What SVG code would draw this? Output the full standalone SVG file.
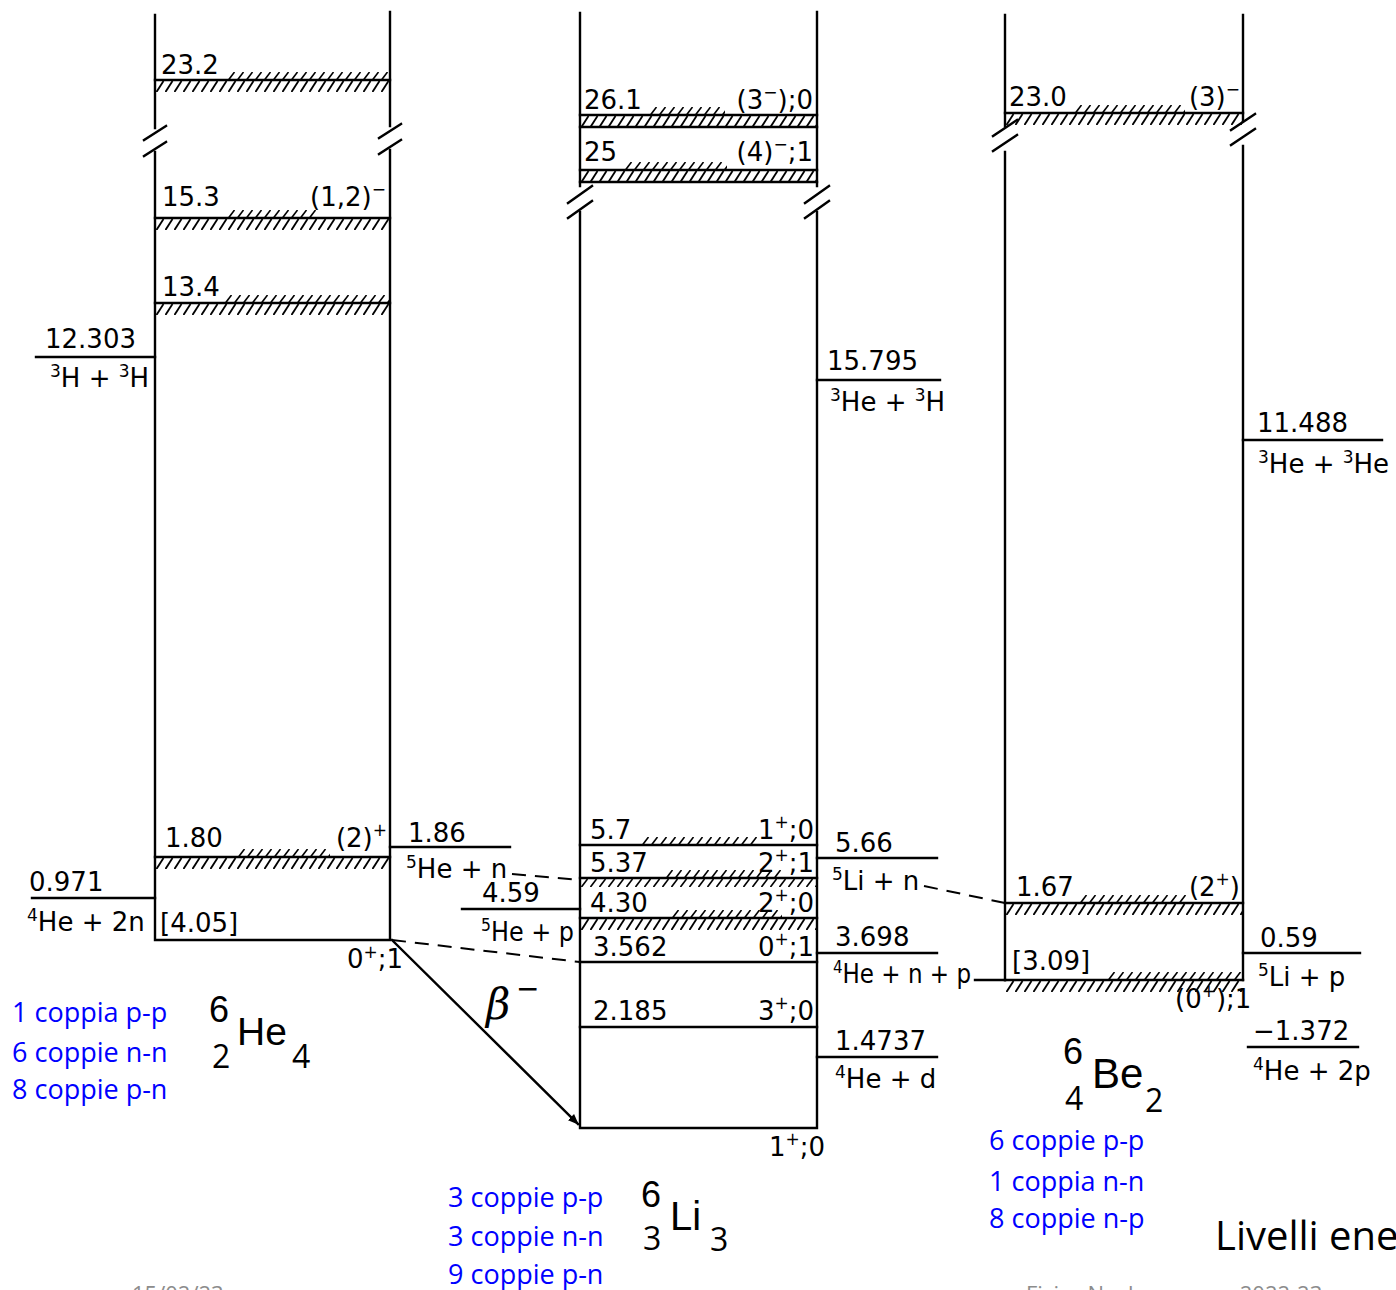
<svg xmlns="http://www.w3.org/2000/svg" width="1396" height="1290" viewBox="0 0 1396 1290">
<style>
.ln{stroke:#000;stroke-width:2.4;fill:none;stroke-linecap:square}
.dash{stroke:#000;stroke-width:2;fill:none;stroke-dasharray:14 9}
.t{font-family:"DejaVu Sans",sans-serif;font-size:26px;fill:#000}
.te{font-family:"DejaVu Sans",sans-serif;font-size:26px;fill:#000;text-anchor:end}
.s{font-size:17px}
.blue{font-family:"Open Sans",sans-serif;font-size:27px;fill:#0000ff}
.nuc{font-family:"Liberation Sans",sans-serif;fill:#000}
.cal{font-family:"Open Sans",sans-serif;fill:#000}
.foot{font-family:"Open Sans",sans-serif;font-size:22px;fill:#8c8c8c}
</style>
<defs>
<pattern id="hb" width="9" height="11" patternUnits="userSpaceOnUse"><path d="M0.5,11 L7.5,0" stroke="#000" stroke-width="1.8"/></pattern>
<pattern id="ha" width="9" height="8" patternUnits="userSpaceOnUse"><path d="M0.5,8 L6.5,0" stroke="#000" stroke-width="1.6"/></pattern>
<marker id="arr" viewBox="0 0 10 10" refX="9" refY="5" markerWidth="11" markerHeight="11" orient="auto" markerUnits="userSpaceOnUse"><path d="M0,1 L10,5 L0,9 Z" fill="#000"/></marker>
</defs>
<rect width="1396" height="1290" fill="#fff"/>

<g id="he6">
<path class="ln" d="M155,15 V128 M155,152 V940 M390,12 V126 M390,150 V940 M155,940 H390"/>
<path class="ln" d="M144,140 L166,126 M144,156 L166,142 M379,138 L401,124 M379,154 L401,140"/>
<path class="ln" d="M155,80 H390 M155,218 H390 M155,303 H390 M155,857 H390"/>
<g transform="translate(156,81)"><rect width="233" height="11" fill="url(#hb)"/></g>
<g transform="translate(228,72)"><rect width="160" height="8" fill="url(#ha)"/></g>
<g transform="translate(156,219)"><rect width="233" height="11" fill="url(#hb)"/></g>
<g transform="translate(228,210)"><rect width="90" height="8" fill="url(#ha)"/></g>
<g transform="translate(156,304)"><rect width="233" height="11" fill="url(#hb)"/></g>
<g transform="translate(225,295)"><rect width="164" height="8" fill="url(#ha)"/></g>
<g transform="translate(156,858)"><rect width="233" height="11" fill="url(#hb)"/></g>
<g transform="translate(238,849)"><rect width="92" height="8" fill="url(#ha)"/></g>
<text class="t" x="161" y="74">23.2</text>
<text class="t" x="162" y="206">15.3</text>
<text class="te" x="386" y="206">(1,2)<tspan class="s" dy="-11">−</tspan></text>
<text class="t" x="162" y="296">13.4</text>
<text class="t" x="165" y="847">1.80</text>
<text class="te" x="387" y="847">(2)<tspan class="s" dy="-11">+</tspan></text>
<text class="t" x="160" y="932">[4.05]</text>
<text class="t" x="347" y="968">0<tspan class="s" dy="-10">+</tspan><tspan dy="10">;1</tspan></text>
<path class="ln" d="M36,357 H155 M32,898 H155"/>
<text class="t" x="45" y="348">12.303</text>
<text class="t" x="50" y="387"><tspan class="s" dy="-10">3</tspan><tspan dy="10">H + </tspan><tspan class="s" dy="-10">3</tspan><tspan dy="10">H</tspan></text>
<text class="t" x="29" y="891">0.971</text>
<text class="t" x="27" y="931"><tspan class="s" dy="-10">4</tspan><tspan dy="10">He + 2n</tspan></text>
<text class="nuc" x="209" y="1022" font-size="36">6</text>
<text class="nuc" x="237" y="1045" font-size="39">He</text>
<text class="cal" x="212" y="1068" font-size="32">2</text>
<text class="cal" x="292" y="1068" font-size="32">4</text>
<text class="blue" x="12" y="1022">1 coppia p-p</text>
<text class="blue" x="12" y="1062">6 coppie n-n</text>
<text class="blue" x="12" y="1099">8 coppie p-n</text>
</g>

<g id="li6">
<path class="ln" d="M580,13 V186 M580,212 V1128 M817,12 V186 M817,212 V1128 M580,1128 H817"/>
<path class="ln" d="M568,203 L592,186 M568,218 L592,201 M805,203 L829,186 M805,218 L829,201"/>
<path class="ln" d="M580,115 H817 M580,127 H817 M580,170 H817 M580,182 H817 M580,845 H817 M580,878 H817 M580,918 H817 M580,962 H817 M580,1027 H817"/>
<g transform="translate(581,116)"><rect width="235" height="11" fill="url(#hb)"/></g>
<g transform="translate(650,107)"><rect width="75" height="8" fill="url(#ha)"/></g>
<g transform="translate(581,171)"><rect width="235" height="11" fill="url(#hb)"/></g>
<g transform="translate(625,162)"><rect width="102" height="8" fill="url(#ha)"/></g>
<g transform="translate(642,837)"><rect width="115" height="8" fill="url(#ha)"/></g>
<g transform="translate(666,870)"><rect width="115" height="8" fill="url(#ha)"/></g>
<g transform="translate(581,879)"><rect width="235" height="8" fill="url(#ha)"/></g>
<g transform="translate(672,910)"><rect width="110" height="8" fill="url(#ha)"/></g>
<g transform="translate(581,919)"><rect width="235" height="11" fill="url(#hb)"/></g>
<text class="t" x="584" y="109">26.1</text>
<text class="te" x="813" y="109">(3<tspan class="s" dy="-11">−</tspan><tspan dy="11">);0</tspan></text>
<text class="t" x="584" y="161">25</text>
<text class="te" x="813" y="161">(4)<tspan class="s" dy="-11">−</tspan><tspan dy="11">;1</tspan></text>
<text class="t" x="590" y="839">5.7</text>
<text class="te" x="814" y="839">1<tspan class="s" dy="-11">+</tspan><tspan dy="11">;0</tspan></text>
<text class="t" x="590" y="872">5.37</text>
<text class="te" x="814" y="872">2<tspan class="s" dy="-11">+</tspan><tspan dy="11">;1</tspan></text>
<text class="t" x="590" y="912">4.30</text>
<text class="te" x="814" y="912">2<tspan class="s" dy="-11">+</tspan><tspan dy="11">;0</tspan></text>
<text class="t" x="593" y="956">3.562</text>
<text class="te" x="814" y="956">0<tspan class="s" dy="-11">+</tspan><tspan dy="11">;1</tspan></text>
<text class="t" x="593" y="1020">2.185</text>
<text class="te" x="814" y="1020">3<tspan class="s" dy="-11">+</tspan><tspan dy="11">;0</tspan></text>
<text class="t" x="769" y="1156">1<tspan class="s" dy="-11">+</tspan><tspan dy="11">;0</tspan></text>
<path class="ln" d="M390,847 H510 M462,909 H580 M817,380 H940 M817,858 H937 M817,953 H937 M817,1057 H937"/>
<text class="t" x="408" y="842">1.86</text>
<text class="t" x="406" y="878"><tspan class="s" dy="-10">5</tspan><tspan dy="10">He + n</tspan></text>
<text class="t" x="482" y="902">4.59</text>
<text class="t" x="481" y="941" textLength="93" lengthAdjust="spacingAndGlyphs"><tspan class="s" dy="-10">5</tspan><tspan dy="10">He + p</tspan></text>
<text class="t" x="827" y="370">15.795</text>
<text class="t" x="830" y="411"><tspan class="s" dy="-10">3</tspan><tspan dy="10">He + </tspan><tspan class="s" dy="-10">3</tspan><tspan dy="10">H</tspan></text>
<text class="t" x="835" y="852">5.66</text>
<text class="t" x="832" y="890"><tspan class="s" dy="-10">5</tspan><tspan dy="10">Li + n</tspan></text>
<text class="t" x="835" y="946">3.698</text>
<text class="t" x="833" y="983" textLength="138" lengthAdjust="spacingAndGlyphs"><tspan class="s" dy="-10">4</tspan><tspan dy="10">He + n + p</tspan></text>
<text class="t" x="835" y="1050">1.4737</text>
<text class="t" x="835" y="1088"><tspan class="s" dy="-10">4</tspan><tspan dy="10">He + d</tspan></text>
<text class="nuc" x="641" y="1207" font-size="36">6</text>
<text class="nuc" x="670" y="1230" font-size="40">Li</text>
<text class="cal" x="643" y="1250" font-size="32">3</text>
<text class="cal" x="710" y="1251" font-size="32">3</text>
<text class="blue" x="448" y="1207">3 coppie p-p</text>
<text class="blue" x="448" y="1246">3 coppie n-n</text>
<text class="blue" x="448" y="1284">9 coppie p-n</text>
</g>

<g id="be6">
<path class="ln" d="M1005,15 V126 M1005,152 V980 M1243,15 V120 M1243,146 V980"/>
<path class="ln" d="M993,136 L1017,120 M993,151 L1017,135 M1231,130 L1255,114 M1231,145 L1255,129"/>
<path class="ln" d="M1005,113 H1243 M1005,903 H1243 M1005,980 H1243"/>
<g transform="translate(1006,114)"><rect width="236" height="11" fill="url(#hb)"/></g>
<g transform="translate(1075,105)"><rect width="110" height="8" fill="url(#ha)"/></g>
<g transform="translate(1006,904)"><rect width="236" height="11" fill="url(#hb)"/></g>
<g transform="translate(1080,895)"><rect width="108" height="8" fill="url(#ha)"/></g>
<g transform="translate(1006,981)"><rect width="236" height="11" fill="url(#hb)"/></g>
<g transform="translate(1108,972)"><rect width="134" height="8" fill="url(#ha)"/></g>
<text class="t" x="1009" y="106">23.0</text>
<text class="te" x="1240" y="106">(3)<tspan class="s" dy="-11">−</tspan></text>
<text class="t" x="1016" y="896">1.67</text>
<text class="te" x="1240" y="896">(2<tspan class="s" dy="-11">+</tspan><tspan dy="11">)</tspan></text>
<text class="t" x="1012" y="970">[3.09]</text>
<text class="t" x="1175" y="1008">(0<tspan class="s" dy="-11">+</tspan><tspan dy="11">);1</tspan></text>
<path class="ln" d="M1243,440 H1382 M1243,953 H1360 M1248,1047 H1358"/>
<text class="t" x="1257" y="432">11.488</text>
<text class="t" x="1258" y="473"><tspan class="s" dy="-10">3</tspan><tspan dy="10">He + </tspan><tspan class="s" dy="-10">3</tspan><tspan dy="10">He</tspan></text>
<text class="t" x="1260" y="947">0.59</text>
<text class="t" x="1258" y="986"><tspan class="s" dy="-10">5</tspan><tspan dy="10">Li + p</tspan></text>
<text class="t" x="1253" y="1040">−1.372</text>
<text class="t" x="1253" y="1080"><tspan class="s" dy="-10">4</tspan><tspan dy="10">He + 2p</tspan></text>
<text class="nuc" x="1063" y="1064" font-size="36">6</text>
<text class="nuc" x="1092" y="1088" font-size="42">Be</text>
<text class="cal" x="1065" y="1110" font-size="32">4</text>
<text class="cal" x="1145" y="1112" font-size="32">2</text>
<text class="blue" x="989" y="1150">6 coppie p-p</text>
<text class="blue" x="989" y="1191">1 coppia n-n</text>
<text class="blue" x="989" y="1228">8 coppie n-p</text>
</g>

<g id="connectors">
<path class="dash" d="M512,874 L580,880"/>
<path class="dash" d="M392,940 L580,962"/>
<path class="dash" d="M924,886 L1005,903"/>
<path class="ln" d="M975,980 H1005"/>
<path class="ln" d="M392,940 L578,1124" stroke-width="2" marker-end="url(#arr)"/>
<text x="486" y="1019" font-family="DejaVu Serif,serif" font-style="italic" font-size="42">β</text>
<text x="516" y="998" font-family="DejaVu Sans,sans-serif" font-size="28">−</text>
</g>

<g id="captions">
<text class="cal" x="1215" y="1250" font-size="40">Livelli ene</text>
<text class="foot" x="132" y="1302">15/02/23</text>
<text class="foot" x="1026" y="1302">Fisica Nucleare - a.a. 2022-23</text>
</g>
</svg>
